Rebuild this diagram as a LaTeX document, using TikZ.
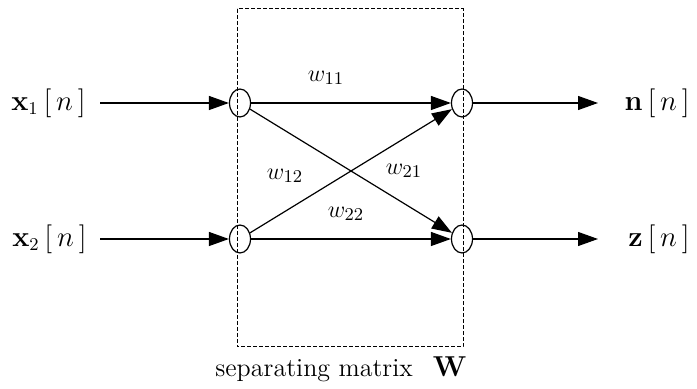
\documentclass[tikz,border=0pt]{standalone}
\usepackage{amsmath}
\usetikzlibrary{arrows.meta,shapes.geometric}
\begin{document}
\begin{tikzpicture}[x=0.5pt,y=-0.5pt,
  junc/.style={draw,ellipse,line width=0.6pt,minimum width=10.5pt,minimum height=14pt,inner sep=0pt},
  conn/.style={line width=0.6pt,-{Triangle[length=10pt,width=7pt]}},
  lab/.style={inner sep=0pt,font=\fontsize{13.5}{16}\selectfont},
  wlab/.style={inner sep=1pt,font=\fontsize{13}{15}\selectfont},
  caplab/.style={inner sep=0pt,font=\fontsize{13}{16}\selectfont}]
\useasboundingbox (0,0) rectangle (697,389);
% dashed box
\draw[line width=0.5pt,dash pattern=on 2pt off 1pt] (237,9) rectangle (463,347);
% junctions
\node[junc] (tl) at (240,103) {};
\node[junc] (bl) at (240,239) {};
\node[junc] (tr) at (462,103) {};
\node[junc] (br) at (462,239) {};
% inputs
\node[lab,anchor=east] (x1) at (86,103) {$\mathbf{x}_1\,[\,n\,]$};
\node[lab,anchor=east] (x2) at (87,239) {$\mathbf{x}_2\,[\,n\,]$};
\coordinate (i1) at (100,103);
\coordinate (i2) at (100,239);
\draw[conn] (i1) -- (tl);
\draw[conn] (i2) -- (bl);
% outputs
\coordinate (o1) at (598,103);
\coordinate (o2) at (598,239);
\node[lab,anchor=east] (n) at (690,103) {$\mathbf{n}\,[\,n\,]$};
\node[lab,anchor=east] (z) at (690,239) {$\mathbf{z}\,[\,n\,]$};
\draw[conn] (tr) -- (o1);
\draw[conn] (br) -- (o2);
% matrix connections
\draw[conn] (tl) -- (tr);
\draw[conn] (bl) -- (br);
\draw[conn] (tl) -- (br);
\draw[conn] (bl) -- (tr);
% weights
\node[wlab] (w11) at (326,78) {$w_{11}$};
\node[wlab] (w12) at (285,176) {$w_{12}$};
\node[wlab] (w21) at (404,171) {$w_{21}$};
\node[wlab] (w22) at (346,214) {$w_{22}$};
% caption
\node[caplab,anchor=base west] (cap) at (215,377) {separating matrix\hspace{10pt}{\fontsize{15}{17}\selectfont$\mathbf{W}$}};
\end{tikzpicture}
\end{document}
